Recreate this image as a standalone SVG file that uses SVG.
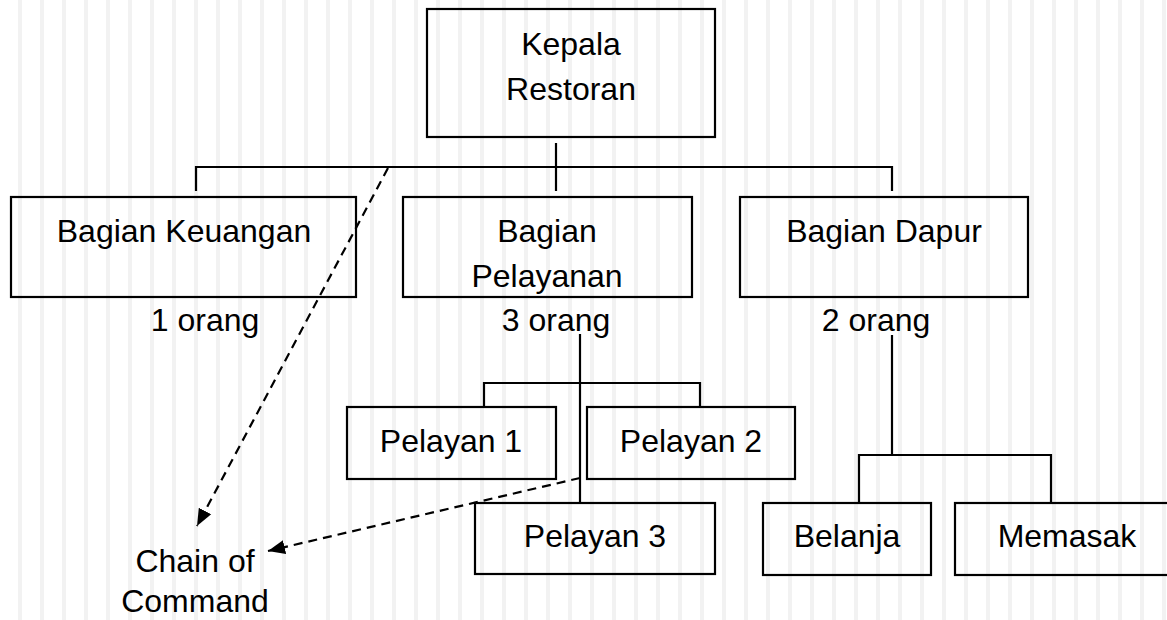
<svg xmlns="http://www.w3.org/2000/svg" width="1167" height="620" viewBox="0 0 1167 620">
  <defs>
    <pattern id="stripes" x="0" y="0" width="22" height="620" patternUnits="userSpaceOnUse">
      <rect x="18" y="0" width="6" height="620" fill="#f2f2f2"/>
    </pattern>
    <marker id="arrow" markerUnits="userSpaceOnUse" markerWidth="18" markerHeight="16" viewBox="0 0 18 16" refX="17" refY="8" orient="auto">
      <path d="M0,1 L17,8 L0,15 Z" fill="#000"/>
    </marker>
    <style>
      .box { fill: none; stroke: #000; stroke-width: 2.2; }
      .lbl { font-family: "Liberation Sans", Arial, sans-serif; font-size: 32px; fill: #000; text-anchor: middle; }
      .conn { stroke: #000; stroke-width: 2.2; fill: none; }
      .dash { stroke: #000; stroke-width: 2.2; fill: none; stroke-dasharray: 9 6; }
    </style>
  </defs>
  <rect x="0" y="0" width="1167" height="620" fill="#fff"/>
  <rect x="0" y="0" width="1167" height="620" fill="url(#stripes)"/>

  <g id="connectors">
    <path class="conn" d="M556,143 V191"/>
    <path class="conn" d="M196,191 V167 H892 V191"/>
    <path class="conn" d="M580,334 V502"/>
    <path class="conn" d="M484,407 V383 H700 V407"/>
    <path class="conn" d="M892,335 V455"/>
    <path class="conn" d="M859,503 V455 H1051 V503"/>
    <path class="dash" d="M388,168 L197,526" marker-end="url(#arrow)"/>
    <path class="dash" d="M580,478 L268,551" marker-end="url(#arrow)"/>
  </g>

  <g id="kepala">
    <rect class="box" x="427" y="9" width="288" height="128"/>
    <text class="lbl" x="571" y="55">Kepala</text>
    <text class="lbl" x="571" y="100">Restoran</text>
  </g>
  <g id="keuangan">
    <rect class="box" x="11" y="197" width="345" height="100"/>
    <text class="lbl" x="184" y="242">Bagian Keuangan</text>
    <text class="lbl" x="205" y="331">1 orang</text>
  </g>
  <g id="pelayanan">
    <rect class="box" x="403" y="197" width="289" height="100"/>
    <text class="lbl" x="547" y="242">Bagian</text>
    <text class="lbl" x="547" y="287">Pelayanan</text>
    <text class="lbl" x="556" y="331">3 orang</text>
  </g>
  <g id="dapur">
    <rect class="box" x="740" y="197" width="288" height="100"/>
    <text class="lbl" x="884" y="242">Bagian Dapur</text>
    <text class="lbl" x="876" y="331">2 orang</text>
  </g>
  <g id="pelayan1">
    <rect class="box" x="347" y="407" width="209" height="72"/>
    <text class="lbl" x="451" y="452">Pelayan 1</text>
  </g>
  <g id="pelayan2">
    <rect class="box" x="587" y="407" width="208" height="72"/>
    <text class="lbl" x="691" y="452">Pelayan 2</text>
  </g>
  <g id="pelayan3">
    <rect class="box" x="475" y="503" width="240" height="71"/>
    <text class="lbl" x="595" y="547">Pelayan 3</text>
  </g>
  <g id="belanja">
    <rect class="box" x="763" y="503" width="168" height="72"/>
    <text class="lbl" x="847" y="547">Belanja</text>
  </g>
  <g id="memasak">
    <rect class="box" x="955" y="503" width="230" height="72"/>
    <text class="lbl" x="1067" y="547">Memasak</text>
  </g>
  <g id="chain">
    <text class="lbl" x="195" y="572">Chain of</text>
    <text class="lbl" x="195" y="612">Command</text>
  </g>
</svg>
